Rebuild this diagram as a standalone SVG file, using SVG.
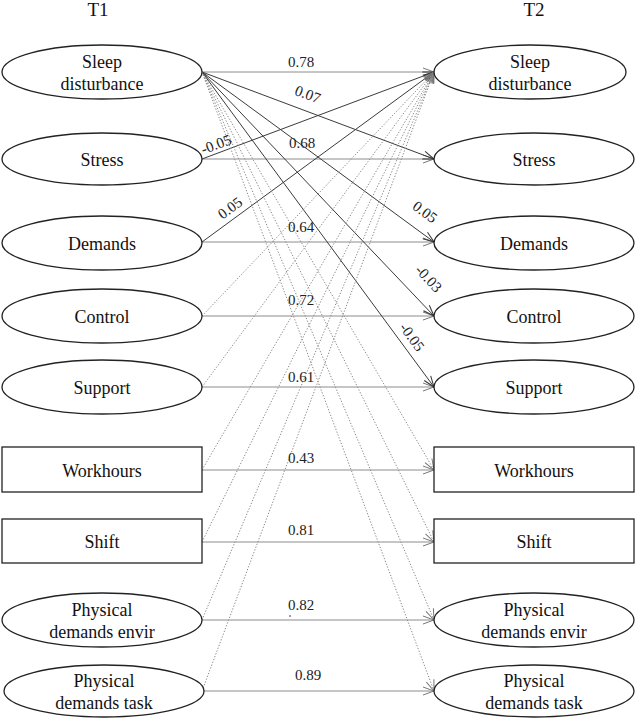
<svg xmlns="http://www.w3.org/2000/svg" width="638" height="721" viewBox="0 0 638 721">
<style>
.n{fill:#fff;stroke:#222;stroke-width:1.3}
.t{font-family:"Liberation Serif","Times New Roman",serif;font-size:18px;fill:#111;text-anchor:middle}
.h{font-family:"Liberation Serif","Times New Roman",serif;font-size:19px;fill:#111;text-anchor:middle}
.l{font-family:"Liberation Serif","Times New Roman",serif;font-size:15px;fill:#222;text-anchor:middle}
.g{stroke:#8c8c8c;stroke-width:1;fill:none;marker-end:url(#ag)}
.d{stroke:#3a3a3a;stroke-width:1;fill:none;marker-end:url(#ad)}
.o{stroke:#8a8a8a;stroke-width:1;fill:none;stroke-dasharray:1.3 1.7;marker-end:url(#ag)}
</style>
<defs>
<marker id="ag" markerWidth="13" markerHeight="10" refX="12" refY="5" orient="auto" markerUnits="userSpaceOnUse"><path d="M1,1 L12,5 L1,9" fill="none" stroke="#777" stroke-width="1"/></marker>
<marker id="ad" markerWidth="13" markerHeight="10" refX="12" refY="5" orient="auto" markerUnits="userSpaceOnUse"><path d="M1,1 L12,5 L1,9" fill="none" stroke="#333" stroke-width="1"/></marker>
</defs>
<text class="h" x="98" y="16">T1</text>
<text class="h" x="534" y="16">T2</text>
<g id="connectors">
<line class="g" x1="202" y1="72" x2="434" y2="72"/>
<line class="g" x1="202" y1="159" x2="434" y2="159"/>
<line class="g" x1="202" y1="242" x2="434" y2="242"/>
<line class="g" x1="202" y1="316" x2="434" y2="316"/>
<line class="g" x1="202" y1="387" x2="434" y2="387"/>
<line class="g" x1="202" y1="470" x2="434" y2="470"/>
<line class="g" x1="202" y1="542" x2="434" y2="542"/>
<line class="g" x1="202" y1="620" x2="434" y2="620"/>
<line class="g" x1="202" y1="691" x2="434" y2="691"/>
<line class="d" x1="202" y1="72" x2="434" y2="159"/>
<line class="d" x1="202" y1="72" x2="434" y2="242"/>
<line class="d" x1="202" y1="72" x2="434" y2="316"/>
<line class="d" x1="202" y1="72" x2="434" y2="387"/>
<line class="d" x1="202" y1="159" x2="434" y2="72"/>
<line class="d" x1="202" y1="242" x2="434" y2="72"/>
<line class="o" x1="202" y1="72" x2="434" y2="470"/>
<line class="o" x1="202" y1="72" x2="434" y2="542"/>
<line class="o" x1="202" y1="72" x2="434" y2="620"/>
<line class="o" x1="202" y1="72" x2="434" y2="691"/>
<line class="o" x1="202" y1="316" x2="434" y2="72"/>
<line class="o" x1="202" y1="387" x2="434" y2="72"/>
<line class="o" x1="202" y1="470" x2="434" y2="72"/>
<line class="o" x1="202" y1="542" x2="434" y2="72"/>
<line class="o" x1="202" y1="620" x2="434" y2="72"/>
<line class="o" x1="202" y1="691" x2="434" y2="72"/>
<text class="l" x="301" y="67">0.78</text>
<text class="l" transform="translate(306,99) rotate(20.6)">0.07</text>
<text class="l" transform="translate(218,149) rotate(-20.6)">-0.05</text>
<text class="l" x="302" y="148">0.68</text>
<text class="l" transform="translate(233,212) rotate(-36.4)">0.05</text>
<text class="l" x="301" y="232">0.64</text>
<text class="l" transform="translate(422,216) rotate(36.4)">0.05</text>
<text class="l" transform="translate(425,282) rotate(46.4)">-0.03</text>
<text class="l" transform="translate(408,340) rotate(53.6)">-0.05</text>
<text class="l" x="301" y="305">0.72</text>
<text class="l" x="301" y="382">0.61</text>
<text class="l" x="301" y="463">0.43</text>
<text class="l" x="301" y="535">0.81</text>
<text class="l" x="301" y="610">0.82</text>
<circle cx="290" cy="616" r="0.8" fill="#222"/>
<text class="l" x="308" y="680">0.89</text>
</g>
<g id="l-sleep"><ellipse class="n" cx="102" cy="72" rx="100" ry="27"/><text class="t" x="102" y="68">Sleep</text><text class="t" x="102" y="90">disturbance</text></g>
<g id="l-stress"><ellipse class="n" cx="102" cy="159" rx="100" ry="26"/><text class="t" x="102" y="166">Stress</text></g>
<g id="l-demands"><ellipse class="n" cx="102" cy="243" rx="100" ry="27"/><text class="t" x="102" y="250">Demands</text></g>
<g id="l-control"><ellipse class="n" cx="102" cy="316" rx="100" ry="27"/><text class="t" x="102" y="323">Control</text></g>
<g id="l-support"><ellipse class="n" cx="102" cy="387" rx="100" ry="27"/><text class="t" x="102" y="394">Support</text></g>
<g id="l-workhours"><rect class="n" x="2" y="447" width="200" height="45"/><text class="t" x="102" y="477">Workhours</text></g>
<g id="l-shift"><rect class="n" x="2" y="519" width="200" height="44"/><text class="t" x="102" y="548">Shift</text></g>
<g id="l-physenv"><ellipse class="n" cx="102" cy="620" rx="100" ry="27"/><text class="t" x="102" y="616">Physical</text><text class="t" x="102" y="638">demands envir</text></g>
<g id="l-phystask"><ellipse class="n" cx="104" cy="691" rx="100" ry="26"/><text class="t" x="104" y="687">Physical</text><text class="t" x="104" y="709">demands task</text></g>
<g id="r-sleep"><ellipse class="n" cx="530" cy="72" rx="96" ry="27"/><text class="t" x="530" y="68">Sleep</text><text class="t" x="530" y="90">disturbance</text></g>
<g id="r-stress"><ellipse class="n" cx="534" cy="159" rx="100" ry="26"/><text class="t" x="534" y="166">Stress</text></g>
<g id="r-demands"><ellipse class="n" cx="534" cy="243" rx="100" ry="27"/><text class="t" x="534" y="250">Demands</text></g>
<g id="r-control"><ellipse class="n" cx="534" cy="316" rx="100" ry="27"/><text class="t" x="534" y="323">Control</text></g>
<g id="r-support"><ellipse class="n" cx="534" cy="387" rx="100" ry="27"/><text class="t" x="534" y="394">Support</text></g>
<g id="r-workhours"><rect class="n" x="434" y="447" width="200" height="45"/><text class="t" x="534" y="477">Workhours</text></g>
<g id="r-shift"><rect class="n" x="434" y="519" width="200" height="44"/><text class="t" x="534" y="548">Shift</text></g>
<g id="r-physenv"><ellipse class="n" cx="534" cy="620" rx="100" ry="27"/><text class="t" x="534" y="616">Physical</text><text class="t" x="534" y="638">demands envir</text></g>
<g id="r-phystask"><ellipse class="n" cx="534" cy="691" rx="100" ry="26"/><text class="t" x="534" y="687">Physical</text><text class="t" x="534" y="709">demands task</text></g>
</svg>
